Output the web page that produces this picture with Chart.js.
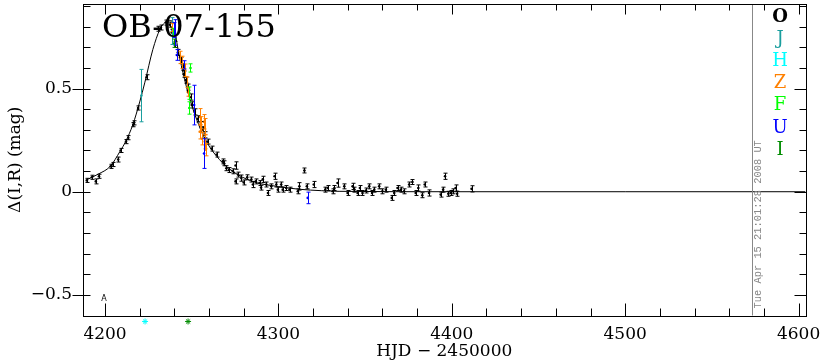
<!DOCTYPE html>
<html>
<head>
<meta charset="utf-8">
<script src="https://cdn.jsdelivr.net/npm/chart.js@4.4.1/dist/chart.umd.min.js"></script>
<style>
  html, body { margin: 0; padding: 0; background: #fff; }
</style>
</head>
<body>
<canvas id="chart" width="822" height="362"></canvas>
<script>
// model light curve (HJD - 2450000, delta mag)
const modelHjd = [4190, 4196, 4203, 4208.6, 4212, 4216, 4220, 4223, 4227.6, 4231.6, 4234.5, 4237.4,
  4239.7, 4241.4, 4244.9, 4248.9, 4252.9, 4258.5, 4266, 4273.6, 4285, 4300, 4312, 4325, 4335, 4400, 4500, 4604];
const modelMag = [0.06, 0.085, 0.123, 0.195, 0.245, 0.324, 0.435, 0.531, 0.69, 0.786, 0.82, 0.829,
  0.82, 0.724, 0.579, 0.45, 0.349, 0.243, 0.156, 0.099, 0.05, 0.025, 0.012, 0.005, 0.002, 0, 0, 0];

// observations per band: [hjd, mag, err]
const bandO = [
  [4189.5, 0.055, 0.010], [4192.4, 0.070, 0.010], [4194.7, 0.050, 0.012], [4196.5, 0.075, 0.010],
  [4203.3, 0.123, 0.010], [4204.4, 0.132, 0.010], [4207.6, 0.156, 0.012], [4209.0, 0.200, 0.010],
  [4212.1, 0.243, 0.010], [4213.4, 0.262, 0.010], [4216.3, 0.325, 0.010], [4216.7, 0.334, 0.010],
  [4219.1, 0.406, 0.010], [4224.0, 0.555, 0.012], [4230.5, 0.790, 0.012], [4232.2, 0.796, 0.012],
  [4235.1, 0.820, 0.012], [4237.4, 0.810, 0.012], [4238.5, 0.772, 0.015], [4240.3, 0.714, 0.015],
  [4242.0, 0.675, 0.015], [4243.7, 0.637, 0.015], [4244.9, 0.603, 0.015], [4245.4, 0.570, 0.015],
  [4246.6, 0.541, 0.015], [4247.7, 0.507, 0.015], [4249.5, 0.459, 0.015], [4250.0, 0.421, 0.015],
  [4251.8, 0.387, 0.015], [4253.5, 0.353, 0.015], [4255.2, 0.325, 0.015], [4256.4, 0.300, 0.015],
  [4257.5, 0.276, 0.015], [4259.2, 0.243, 0.012], [4261.5, 0.209, 0.012], [4264.4, 0.180, 0.012],
  [4267.9, 0.147, 0.012], [4268.6, 0.138, 0.012], [4270.0, 0.114, 0.012], [4271.5, 0.105, 0.012],
  [4273.8, 0.099, 0.012], [4275.3, 0.127, 0.018], [4275.3, 0.050, 0.012], [4276.7, 0.083, 0.012],
  [4278.6, 0.066, 0.015], [4280.0, 0.045, 0.012], [4282.0, 0.070, 0.012], [4284.4, 0.059, 0.012],
  [4285.3, 0.035, 0.015], [4287.0, 0.050, 0.012], [4289.1, 0.042, 0.012], [4290.0, 0.020, 0.012],
  [4291.0, 0.060, 0.015], [4293.0, 0.035, 0.012], [4294.0, -0.006, 0.012], [4295.9, 0.026, 0.012],
  [4297.8, 0.075, 0.015], [4298.8, 0.035, 0.012], [4299.7, 0.010, 0.012], [4301.6, 0.035, 0.012],
  [4302.5, 0.010, 0.012], [4304.5, 0.018, 0.012], [4306.4, 0.010, 0.012], [4311.2, 0.002, 0.012],
  [4312.1, 0.026, 0.018], [4315.0, 0.103, 0.012], [4316.4, 0.026, 0.012], [4320.4, 0.035, 0.015],
  [4327.0, 0.010, 0.012], [4328.4, 0.018, 0.012], [4331.3, 0.002, 0.012], [4332.3, 0.018, 0.012],
  [4334.1, 0.042, 0.020], [4338.0, 0.026, 0.012], [4339.9, -0.006, 0.012], [4342.8, 0.026, 0.015],
  [4343.8, 0.010, 0.012], [4345.7, -0.006, 0.012], [4347.0, 0.018, 0.012], [4348.5, -0.006, 0.012],
  [4350.5, 0.006, 0.012], [4352.4, 0.026, 0.012], [4354.0, -0.006, 0.012], [4355.3, 0.010, 0.012],
  [4358.1, 0.026, 0.012], [4360.0, 0.002, 0.012], [4362.0, 0.010, 0.012], [4365.4, -0.030, 0.012],
  [4366.8, -0.006, 0.012], [4368.7, 0.018, 0.012], [4370.6, 0.010, 0.012], [4372.5, 0.002, 0.012],
  [4375.4, 0.035, 0.012], [4377.3, 0.047, 0.012], [4379.2, -0.006, 0.012], [4380.7, 0.018, 0.015],
  [4383.0, -0.017, 0.012], [4384.4, 0.035, 0.012], [4386.9, -0.006, 0.015], [4393.6, -0.014, 0.012],
  [4395.0, 0.010, 0.012], [4396.1, 0.075, 0.015], [4398.0, -0.010, 0.012], [4399.4, -0.006, 0.012],
  [4400.7, 0.002, 0.012], [4402.2, 0.018, 0.015], [4403.1, -0.010, 0.012], [4411.4, 0.014, 0.015]
];
const bandJ = [[4221.0, 0.466, 0.127], [4238.7, 0.779, 0.065]];
const bandZ = [
  [4238.5, 0.796, 0.020], [4243.1, 0.651, 0.030], [4244.3, 0.627, 0.030], [4246.0, 0.589, 0.030],
  [4247.2, 0.531, 0.025], [4247.7, 0.483, 0.020], [4254.6, 0.363, 0.040], [4255.2, 0.329, 0.035],
  [4254.6, 0.291, 0.035], [4255.8, 0.257, 0.030], [4257.5, 0.315, 0.040], [4257.5, 0.243, 0.035],
  [4258.1, 0.204, 0.030], [4256.9, 0.339, 0.035]
];
const bandF = [[4239.1, 0.772, 0.020], [4248.6, 0.478, 0.030], [4248.6, 0.406, 0.030], [4249.3, 0.600, 0.020]];
const bandU = [
  [4239.7, 0.784, 0.036], [4240.3, 0.772, 0.062], [4241.4, 0.663, 0.026], [4245.4, 0.615, 0.020],
  [4251.4, 0.420, 0.096], [4257.1, 0.185, 0.072], [4316.9, -0.030, 0.028]
];
const bandI = [[4240.0, 0.720, 0.020]];
// points that fall off the bottom of the plot
const offH = [[4223.1, -0.629]];
const offI = [[4247.9, -0.629]];

const xTicks = [4200, 4300, 4400, 4500, 4600];
const yTicks = [-0.5, 0, 0.5];
const yTickLabels = ["\u22120.5", "0", "0.5"];
const bandNames = ["O", "J", "H", "Z", "F", "U", "I"];
const bandColors = ["#000000", "#1a9e9e", "#00ffff", "#ff8000", "#00ff00", "#0000ff", "#008c00"];

const dateLineHjd = 4573;
const stamp = "Tue Apr 15 21:01:28 2008 UT";

const font = { family: "DejaVu Serif", size: 17 };

function points(rows) {
  return rows.map((r) => ({ x: r[0], y: r[1] }));
}

function bandSet(rows, color) {
  return {
    data: points(rows),
    errs: rows.map((r) => r[2]),
    pointRadius: 1.3,
    pointBackgroundColor: color,
    pointBorderWidth: 0,
    errColor: color
  };
}

const errorBars = {
  id: "errorBars",
  afterDatasetsDraw(chart) {
    const { ctx, chartArea: a, scales: { y } } = chart;
    ctx.save();
    ctx.beginPath();
    ctx.rect(a.left, a.top, a.right - a.left, a.bottom - a.top);
    ctx.clip();
    ctx.lineWidth = 1;
    chart.data.datasets.forEach((ds, i) => {
      if (!ds.errs) return;
      const meta = chart.getDatasetMeta(i);
      ctx.strokeStyle = ds.errColor;
      meta.data.forEach((el, j) => {
        const val = ds.data[j].y;
        const e = ds.errs[j];
        const px = Math.round(el.x) + 0.5;
        const top = y.getPixelForValue(val + e);
        const bot = y.getPixelForValue(val - e);
        ctx.beginPath();
        ctx.moveTo(px, top);
        ctx.lineTo(px, bot);
        ctx.moveTo(px - 2, top);
        ctx.lineTo(px + 2, top);
        ctx.moveTo(px - 2, bot);
        ctx.lineTo(px + 2, bot);
        ctx.stroke();
      });
    });
    ctx.restore();
  }
};

function star(ctx, cx, cy, r) {
  ctx.beginPath();
  for (let k = 0; k < 4; k++) {
    const ang = k * Math.PI / 4;
    ctx.moveTo(cx - r * Math.cos(ang), cy - r * Math.sin(ang));
    ctx.lineTo(cx + r * Math.cos(ang), cy + r * Math.sin(ang));
  }
  ctx.stroke();
}

const frame = {
  id: "frame",
  afterDraw(chart) {
    const { ctx, chartArea: a, scales: { x, y } } = chart;
    ctx.save();

    // date stamp line
    const dx = Math.round(x.getPixelForValue(dateLineHjd)) + 0.5;
    ctx.strokeStyle = "#888";
    ctx.lineWidth = 1;
    ctx.beginPath();
    ctx.moveTo(dx, a.top);
    ctx.lineTo(dx, a.bottom);
    ctx.stroke();
    ctx.save();
    ctx.translate(dx + 6, a.bottom - 7);
    ctx.rotate(-Math.PI / 2);
    ctx.fillStyle = "#888";
    ctx.font = "10.4px 'Liberation Mono'";
    ctx.textAlign = "left";
    ctx.textBaseline = "middle";
    ctx.fillText(stamp, 0, 0);
    ctx.restore();

    // box
    ctx.strokeStyle = "#000";
    const L = Math.round(a.left) + 0.5, R = Math.round(a.right) + 0.5;
    const T = Math.round(a.top) + 0.5, B = Math.round(a.bottom) + 0.5;
    ctx.strokeRect(L, T, R - L, B - T);

    // x ticks every 20
    ctx.beginPath();
    for (let v = 4200; v <= 4600; v += 20) {
      const px = Math.round(x.getPixelForValue(v)) + 0.5;
      const major = v % 100 === 0;
      ctx.moveTo(px, B);
      ctx.lineTo(px, B - (major ? 13 : 8));
      ctx.moveTo(px, T);
      ctx.lineTo(px, T + (major ? 10 : 6));
    }
    // y ticks every 0.1
    for (let i = -6; i <= 9; i++) {
      const py = Math.round(y.getPixelForValue(i / 10)) + 0.5;
      const major = i % 5 === 0;
      ctx.moveTo(major ? L - 11 : L, py);
      ctx.lineTo(L + 7, py);
      ctx.moveTo(R, py);
      ctx.lineTo(R - (major ? 12 : 7), py);
    }
    ctx.stroke();

    // off-scale points below the axis
    ctx.lineWidth = 1;
    ctx.strokeStyle = bandColors[2];
    offH.forEach((p) => star(ctx, x.getPixelForValue(p[0]), y.getPixelForValue(p[1]), 3));
    ctx.strokeStyle = bandColors[6];
    offI.forEach((p) => star(ctx, x.getPixelForValue(p[0]), y.getPixelForValue(p[1]), 3));

    // small marker label
    ctx.fillStyle = "#000";
    ctx.font = "8px 'DejaVu Sans'";
    ctx.textAlign = "center";
    ctx.textBaseline = "middle";
    ctx.fillText("A", x.getPixelForValue(4199.4), y.getPixelForValue(-0.52));

    // event name
    ctx.font = "32px 'DejaVu Serif'";
    ctx.textAlign = "left";
    ctx.textBaseline = "alphabetic";
    ctx.fillText("OB-07-155", 102, 37);

    // band key
    ctx.textAlign = "center";
    ctx.textBaseline = "middle";
    bandNames.forEach((name, i) => {
      ctx.fillStyle = bandColors[i];
      ctx.font = (i === 0 ? "bold " : "") + "18px 'DejaVu Serif'";
      ctx.fillText(name, 780, 17 + i * 22.2);
    });

    ctx.restore();
  }
};

new Chart(document.getElementById("chart"), {
  type: "scatter",
  data: {
    datasets: [
      {
        type: "line",
        data: modelHjd.map((h, i) => ({ x: h, y: modelMag[i] })),
        borderColor: "#000",
        borderWidth: 1,
        pointRadius: 0,
        cubicInterpolationMode: "monotone",
        fill: false
      },
      bandSet(bandO, bandColors[0]),
      bandSet(bandJ, bandColors[1]),
      bandSet(bandZ, bandColors[3]),
      bandSet(bandF, bandColors[4]),
      bandSet(bandU, bandColors[5]),
      bandSet(bandI, bandColors[6])
    ]
  },
  options: {
    responsive: false,
    animation: false,
    layout: { padding: { left: 0, right: 16.5, top: 1.5, bottom: 0 } },
    plugins: { legend: { display: false }, tooltip: { enabled: false } },
    scales: {
      x: {
        type: "linear",
        min: 4187.3,
        max: 4604,
        grid: { display: false, drawTicks: false },
        border: { display: false },
        afterBuildTicks: (s) => { s.ticks = xTicks.map((v) => ({ value: v })); },
        ticks: { font, color: "#000", padding: 9, maxRotation: 0, autoSkip: false, callback: (v) => String(v) },
        title: { display: true, text: "HJD \u2212 2450000", font: { family: "DejaVu Serif", size: 17 }, color: "#000", padding: 0 },
        afterFit: (s) => { s.height = 46.5; s.paddingLeft = 0; s.paddingRight = 0; }
      },
      y: {
        min: -0.6,
        max: 0.91,
        grid: { display: false, drawTicks: false },
        border: { display: false },
        afterBuildTicks: (s) => { s.ticks = yTicks.map((v) => ({ value: v })); },
        ticks: { font, color: "#000", padding: 11, autoSkip: false, callback: (v) => yTickLabels[yTicks.indexOf(v)] },
        title: { display: true, text: "\u0394(I,R) (mag)", font: { family: "DejaVu Serif", size: 17 }, color: "#000", padding: { top: 5, bottom: 0 } },
        afterFit: (s) => { s.width = 83; s.paddingTop = 0; s.paddingBottom = 0; }
      }
    }
  },
  plugins: [errorBars, frame]
});
</script>
</body>
</html>
